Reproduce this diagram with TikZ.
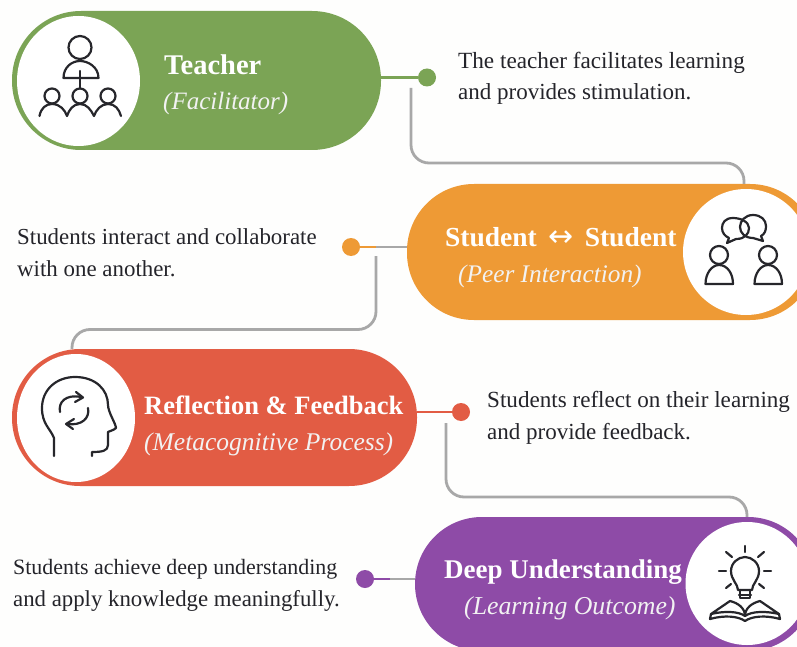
\documentclass[tikz,border=0pt]{standalone}
\usepackage{fontspec}
\usetikzlibrary{shapes.geometric}
\setmainfont{Liberation Serif}
\newfontfamily\arrowfont{DejaVu Sans}
\definecolor{cgreen}{HTML}{7BA455}
\definecolor{corange}{HTML}{EE9A35}
\definecolor{cred}{HTML}{E25C44}
\definecolor{cpurple}{HTML}{8E4BA7}
\definecolor{cgray}{HTML}{A8A8A8}
\definecolor{cink}{HTML}{26262B}
\definecolor{ctext}{HTML}{24242A}
\definecolor{cpaper}{HTML}{FEFEFD}
\newcommand{\fsz}[1]{\fontsize{#1}{30}\selectfont}
\tikzset{
  pill/.style={fill=#1, draw=none, rounded corners=67pt, inner sep=0pt},
  disc/.style={circle, fill=white, draw=none, inner sep=0pt, minimum size=#1},
  ovaldisc/.style={ellipse, fill=white, draw=none, inner sep=0pt},
  dotnode/.style={circle, fill=#1, draw=none, inner sep=0pt, minimum size=18pt},
  stub/.style={line width=2.8pt, draw=#1},
  link/.style={line width=2.8pt, draw=cgray, rounded corners=18pt},
  title/.style={anchor=base west, inner sep=0pt, text=white, font=\bfseries},
  subtitle/.style={anchor=base west, inner sep=0pt, text=white!95!black, font=\itshape},
  desc/.style={anchor=base west, inner sep=0pt, text=ctext},
  icon/.style={draw=cink, line width=2.2pt, line cap=round, line join=round},
}
\begin{document}
\begin{tikzpicture}[x=1pt,y=-1pt]
\useasboundingbox (0,0) rectangle (797,647);
\fill[cpaper] (0,0) rectangle (797,647);
\clip (0,0) rectangle (797,647);

% pills
\node[pill=cgreen, minimum width=369pt, minimum height=139pt, rounded corners=69pt] (pillg) at (196.5,80.5) {};
\node[pill=corange, minimum width=410pt, minimum height=136pt] (pillo) at (612,252) {};
\node[pill=cred, minimum width=405pt, minimum height=137pt, rounded corners=68pt] (pillr) at (214.5,417.5) {};
\node[pill=cpurple, minimum width=400pt, minimum height=134pt] (pillp) at (615,584) {};

% discs
\node[ovaldisc, minimum width=123pt, minimum height=130pt] (discg) at (78.5,81) {};
\node[disc=126pt] (disco) at (746,252) {};
\node[ovaldisc, minimum width=118pt, minimum height=128pt] (discr) at (76,418) {};
\node[disc=123pt] (discp) at (747,583.5) {};

% dots
\node[dotnode=cgreen] (dotg) at (427,77.5) {};
\node[dotnode=corange] (doto) at (351,247) {};
\node[dotnode=cred] (dotr) at (461,412) {};
\node[dotnode=cpurple] (dotp) at (365,579) {};

% stubs
\draw[stub=cgreen] (pillg.east |- dotg) -- (dotg);
\draw[stub=cgray] (pillo.west |- doto) -- (doto);
\draw[stub=corange] (doto) -- ++(25,0);
\draw[stub=cred] (pillr.east |- dotr) -- (dotr);
\draw[stub=cgray] (pillp.west |- dotp) -- (dotp);
\draw[stub=cpurple] (dotp) -- ++(25,0);

% gray links
\coordinate (startg) at (411,88);
\coordinate (starto) at (376,256);
\coordinate (startr) at (446,423);
\coordinate (endo) at (744,184);
\coordinate (endr) at (72,349);
\coordinate (endp) at (747,517);
\draw[link] (startg) -- (411,163) -- (744,163) -- (pillo.north -| endo);
\draw[link] (starto) -- (376,329.5) -- (72,329.5) -- (pillr.north -| endr);
\draw[link] (startr) -- (446,497) -- (747,497) -- (pillp.north -| endp);

% titles
\node[title] (tg) at (164,75) {\fsz{28.5}Teacher};
\node[subtitle] (sg) at (163,110) {\fsz{25}(Facilitator)};
\node[title] (to) at (445,246) {\fsz{27.5}Student\hspace{4.5pt} {\arrowfont\mdseries\fsz{30}↔}\hspace{4.5pt} Student};
\node[subtitle] (so) at (458,282) {\fsz{25.3}(Peer Interaction)};
\node[title] (tr) at (144,414) {\fsz{26.5}Reflection \& Feedback};
\node[subtitle] (sr) at (144,450) {\fsz{25.5}(Metacognitive Process)};
\node[title] (tp) at (444,578) {\fsz{27}Deep Understanding};
\node[subtitle] (sp) at (464,614) {\fsz{25.8}(Learning Outcome)};

% descriptions
\node[desc] (d1a) at (458,69) {\fsz{23.2}The teacher facilitates learning};
\node[desc] (d1b) at (458,100) {\fsz{23}and provides stimulation.};
\node[desc] (d2a) at (17,244) {\fsz{22.9}Students interact and collaborate};
\node[desc] (d2b) at (17,276) {\fsz{22.9}with one another.};
\node[desc] (d3a) at (487,407) {\fsz{23.1}Students reflect on their learning};
\node[desc] (d3b) at (487,439) {\fsz{23}and provide feedback.};
\node[desc] (d4a) at (13,574) {\fsz{21.9}Students achieve deep understanding};
\node[desc] (d4b) at (13,606) {\fsz{22.8}and apply knowledge meaningfully.};

% teacher icon
\draw[icon] (80,47.5) circle (11.5);
\draw[icon] (63.5,78) .. controls (63.5,67) and (72,61) .. (80,61) .. controls (88,61) and (98.5,67) .. (98.5,78) -- cycle;
\draw[icon] (80,71) -- (80,88);
\foreach \cx in {52,80,108}{\draw[icon] (\cx,96) circle (7.5);}
\draw[icon] (39.5,116) .. controls (41,108) and (46,104) .. (52,104) .. controls (60,104) and (65,110) .. (67,116) .. controls (69,110) and (73,104) .. (80,104) .. controls (87,104) and (91,110) .. (94,116) .. controls (96,110) and (101,104) .. (108,104) .. controls (115,104) and (119,109) .. (121,116);

% student icon
\draw[icon] (733,218) .. controls (725,218) and (722,223) .. (722,228) .. controls (722,233) and (725,236) .. (729,238) -- (727,243) -- (736,239) .. controls (745,239) and (749,234) .. (749,228) .. controls (749,222) and (741,218) .. (733,218) -- cycle;
\draw[icon] (753,215) .. controls (745,215) and (740,221) .. (740,227) .. controls (740,233) and (745,238) .. (753,238) -- (763,241) -- (761,236) .. controls (765,234) and (766,230) .. (766,226) .. controls (766,220) and (761,215) .. (753,215) -- cycle;
\draw[icon] (719,255) circle (9);
\draw[icon] (768,255) circle (9);
\draw[icon] (705.5,284) .. controls (705.5,273) and (712,265) .. (719,265) .. controls (727,265) and (733,273) .. (733,284) -- cycle;
\draw[icon] (754.5,284) .. controls (754.5,273) and (761,265) .. (768,265) .. controls (776,265) and (782,273) .. (782,284) -- cycle;

% head icon
\draw[icon] (54,456) -- (54,438) .. controls (50,428) and (42,424) .. (42,408) .. controls (42,390) and (56,377) .. (75,377) .. controls (96,377) and (108,390) .. (108,405) .. controls (108,412) and (116,424) .. (116,428) .. controls (114,430) and (110,431) .. (108,432) -- (108,445) .. controls (108,451) and (102,452) .. (92,452) -- (92,456);
\draw[icon] (60,412) .. controls (58,402) and (66,394) .. (81,397);
\draw[icon] (76,392) -- (83,397.5) -- (75,402);
\draw[icon] (88,408) .. controls (90,418) and (82,426) .. (67,424);
\draw[icon] (74,419) -- (66,424) -- (73,429);

% bulb and book icon
\draw[icon] (738,590) .. controls (738,584) and (731,580) .. (731,571) .. controls (731,563) and (738,557) .. (745,557) .. controls (752,557) and (759,563) .. (759,571) .. controls (759,580) and (752,584) .. (752,590) -- cycle;
\draw[icon] (739,595) -- (751,595);
\draw[icon] (740,590) -- (740,598) -- (750,598) -- (750,590);
\draw[icon] (745,546) -- (745,552);
\draw[icon] (726,552) -- (732,557);
\draw[icon] (764,552) -- (758,557);
\draw[icon] (719,571) -- (726,571);
\draw[icon] (764,571) -- (771,571);
\draw[icon] (726,588) -- (731,584);
\draw[icon] (764,588) -- (759,584);
\draw[icon] (745,616) .. controls (745,608) and (738,603) .. (730,601) -- (711,614) .. controls (724,611) and (738,611) .. (745,616) .. controls (752,611) and (766,611) .. (779,614) -- (760,601) .. controls (752,603) and (745,608) .. (745,616) -- cycle;
\draw[icon] (711,614) -- (710,619) .. controls (724,615) and (738,616) .. (745,621) .. controls (752,616) and (766,615) .. (780,619) -- (779,614);
\end{tikzpicture}
\end{document}
